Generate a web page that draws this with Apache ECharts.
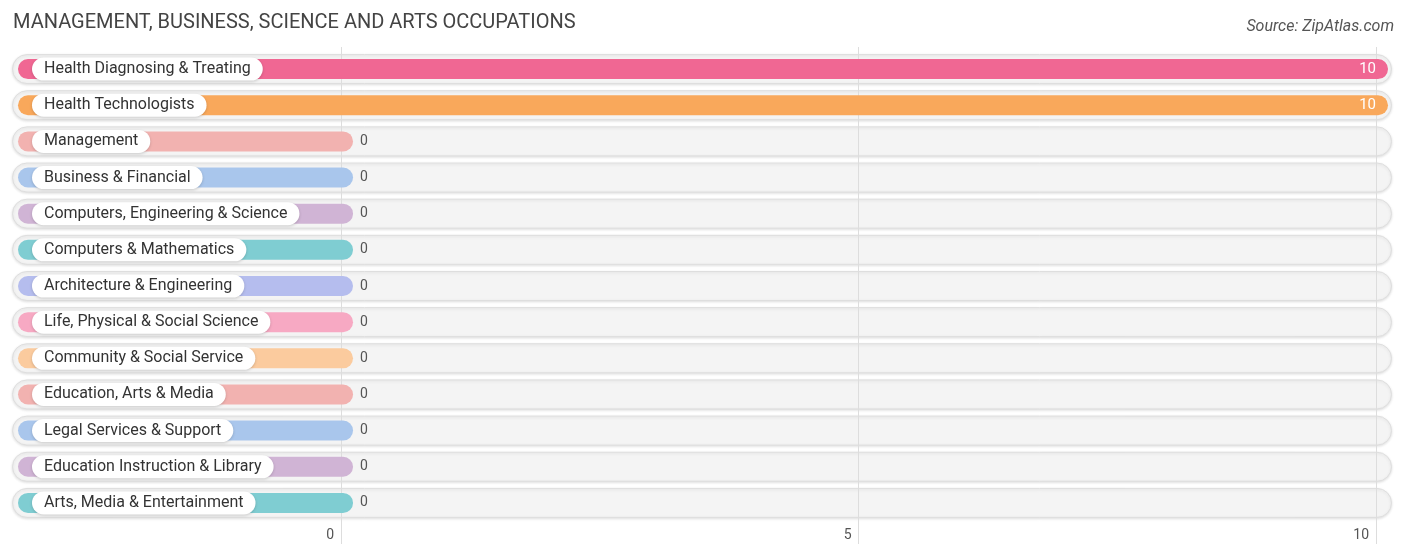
<!DOCTYPE html>
<html>
<head>
<meta charset="utf-8">
<script src="https://cdn.jsdelivr.net/npm/echarts@6/dist/echarts.min.js"></script>
<style>
  html, body { margin: 0; padding: 0; background: #fff; }
  #chart { width: 1406px; height: 559px; }
</style>
</head>
<body>
<div id="chart"></div>
<script>
var categories = [
  'Health Diagnosing & Treating',
  'Health Technologists',
  'Management',
  'Business & Financial',
  'Computers, Engineering & Science',
  'Computers & Mathematics',
  'Architecture & Engineering',
  'Life, Physical & Social Science',
  'Community & Social Service',
  'Education, Arts & Media',
  'Legal Services & Support',
  'Education Instruction & Library',
  'Arts, Media & Entertainment'
];
var values = [10, 10, 0, 0, 0, 0, 0, 0, 0, 0, 0, 0, 0];
var tickLabels = ['0', '5', '10'];

var palette = [
  '#f06793', '#f9a85b', '#f2b2b0', '#a9c6ec', '#d0b4d5', '#7fcdd2', '#b5bdee',
  '#f7a9c3', '#fbcb9e', '#f2b2b0', '#a9c6ec', '#d0b4d5', '#7fcdd2'
];

// bars start left of the zero line; this is the extra stub length (in axis units)
var stub = 3.237;
var unitPx = 103.5;
var trackMax = (1392 - 12) / unitPx;
var barMax = (1392 - 18) / unitPx;

var chart = echarts.init(document.getElementById('chart'), null, { renderer: 'canvas' });

var barData = values.map(function (v, i) {
  var full = v > 0;
  return {
    value: v + stub,
    itemStyle: { color: palette[i] },
    label: full
      ? { show: true, position: 'insideRight', distance: 12, color: '#fff', fontSize: 15 }
      : { show: true, position: 'right', distance: 7, color: '#555', fontSize: 14 }
  };
});

var option = {
  animation: false,
  title: [
    {
      text: 'MANAGEMENT, BUSINESS, SCIENCE AND ARTS OCCUPATIONS',
      left: 8, top: 8,
      textStyle: { fontFamily: 'Roboto', fontSize: 20, fontWeight: 'normal', color: '#444' }
    },
    {
      text: 'Source: ZipAtlas.com',
      right: 7, top: 14,
      textStyle: { fontFamily: 'Roboto', fontSize: 16, fontWeight: 'normal', fontStyle: 'italic', color: '#555' }
    }
  ],
  grid: [
    { left: 12, right: 14, top: 51, bottom: 38 },
    { left: 18, right: 14, top: 51, bottom: 38 },
    { left: 341, right: 30, top: 47, bottom: 38 }
  ],
  xAxis: [
    { gridIndex: 0, type: 'value', min: 0, max: trackMax, show: false },
    { gridIndex: 1, type: 'value', min: 0, max: barMax, show: false },
    {
      gridIndex: 2, type: 'value', min: 0, max: 10, interval: 5, z: 3,
      axisLine: { show: false },
      axisTick: { show: true, length: 23, lineStyle: { color: '#ddd' } },
      splitLine: { show: true, lineStyle: { color: '#ddd' } },
      axisLabel: {
        margin: 7, align: 'right', padding: [0, 7, 0, 0],
        fontFamily: 'Roboto', fontSize: 14, color: '#555',
        formatter: function (v) { return tickLabels[v / 5]; }
      }
    }
  ],
  yAxis: [
    { gridIndex: 0, type: 'category', data: categories, inverse: true, show: false },
    { gridIndex: 1, type: 'category', data: categories, inverse: true, show: false },
    { gridIndex: 2, type: 'category', data: categories, inverse: true, show: false }
  ],
  series: [
    {
      type: 'bar', xAxisIndex: 0, yAxisIndex: 0, z: 1,
      barWidth: 30, silent: true,
      data: categories.map(function () { return trackMax; }),
      itemStyle: {
        color: '#f4f4f4', borderColor: '#dedede', borderWidth: 1, borderRadius: 15,
        shadowBlur: 3, shadowColor: 'rgba(0,0,0,0.12)', shadowOffsetY: 1
      }
    },
    {
      type: 'bar', xAxisIndex: 1, yAxisIndex: 1, z: 4,
      barWidth: 20, barGap: '-100%',
      data: barData,
      itemStyle: { borderRadius: 10 },
      label: {
        fontFamily: 'Roboto',
        formatter: function (p) { return values[p.dataIndex]; }
      }
    },
    {
      type: 'bar', xAxisIndex: 1, yAxisIndex: 1, z: 5,
      barWidth: 20, barGap: '-100%',
      data: values.map(function (v) { return v + stub; }),
      itemStyle: { color: 'transparent' },
      label: {
        show: true, position: 'insideLeft', distance: 14,
        formatter: function (p) { return categories[p.dataIndex]; },
        fontFamily: 'Roboto', fontSize: 16, color: '#333',
        backgroundColor: '#fff', borderRadius: 12, padding: [4, 12, 3, 12],
        shadowBlur: 3, shadowColor: 'rgba(0,0,0,0.18)', shadowOffsetY: 1
      }
    }
  ]
};

chart.setOption(option);
</script>
</body>
</html>
